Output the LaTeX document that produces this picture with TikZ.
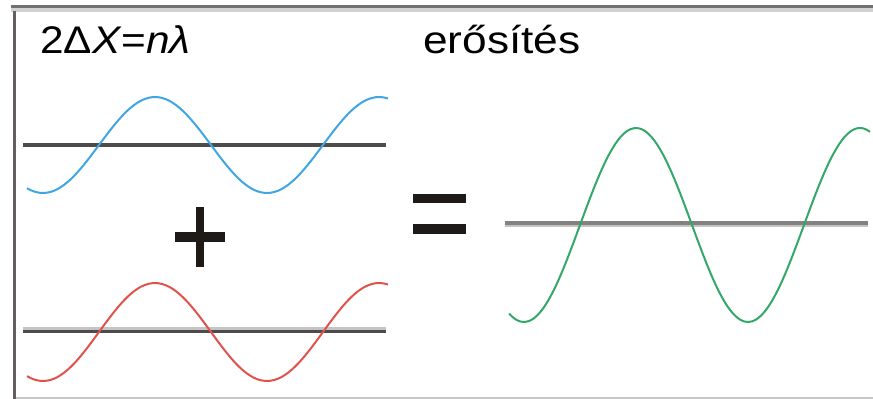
\documentclass[tikz,border=0pt]{standalone}
\usepackage{fontspec}
\setmainfont{Liberation Sans}
\usepackage{xcolor}
\usepackage{tikz}
\definecolor{FrameDark}{HTML}{74706F}
\definecolor{FrameLight}{HTML}{D2D2D2}
\definecolor{AxisInk}{HTML}{4E4C4B}
\definecolor{AxisShade}{HTML}{C4C4C4}
\definecolor{WaveBlue}{HTML}{3FA6E2}
\definecolor{WaveRed}{HTML}{E0524C}
\definecolor{WaveGreen}{HTML}{34A76A}
\definecolor{SignInk}{HTML}{1E1A18}

\begin{document}
\begin{tikzpicture}[x=1pt,y=-1pt,
  title/.style={anchor=base west,inner sep=0pt,font=\fontsize{38.5}{44}\selectfont},
  axis/.style={draw=AxisInk,line width=3.5pt},
  shade/.style={draw=AxisShade,line width=3pt},
  wave/.style={line width=2pt,smooth,samples=90},
  sign/.style={fill=SignInk,draw=none}
]
  \useasboundingbox (0,0) rectangle (873,399);
  \fill[FrameDark] (11,5) rectangle (873,8.4);
  \fill[FrameLight] (11,8.4) rectangle (873,11.7);
  \fill[FrameDark!85!black] (13,11) rectangle (16.2,399);
  \fill[FrameLight!85!gray] (16.2,397) rectangle (873,399);

  \node[title,xscale=1.1] (rule) at (40,53) {2Δ\textit{X}=\textit{nλ}};
  \node[title,xscale=1.15] (gain) at (423,53) {erősítés};

  \draw[axis] (23,145) -- (386,145);
  \draw[wave,draw=WaveBlue] plot[domain=27:388] (\x,{145-48*sin((\x-99)/224*360)});

  \fill[sign] (196,207) rectangle (204,267);
  \fill[sign] (175,232) rectangle (225,242);

  \draw[shade] (23,328.5) -- (386,328.5);
  \draw[axis] (23,331.5) -- (386,331.5);
  \draw[wave,draw=WaveRed] plot[domain=27:388] (\x,{332-49*sin((\x-99)/224*360)});

  \fill[sign] (413,193.5) rectangle (466,203);
  \fill[sign] (413,224) rectangle (466,234);

  \draw[shade] (505,225.5) -- (868,225.5);
  \draw[axis,draw=AxisInk!70] (505,222.8) -- (868,222.8);
  \draw[wave,draw=WaveGreen] plot[domain=509:870] (\x,{225-97*sin((\x-580)/224*360)});
\end{tikzpicture}
\end{document}
